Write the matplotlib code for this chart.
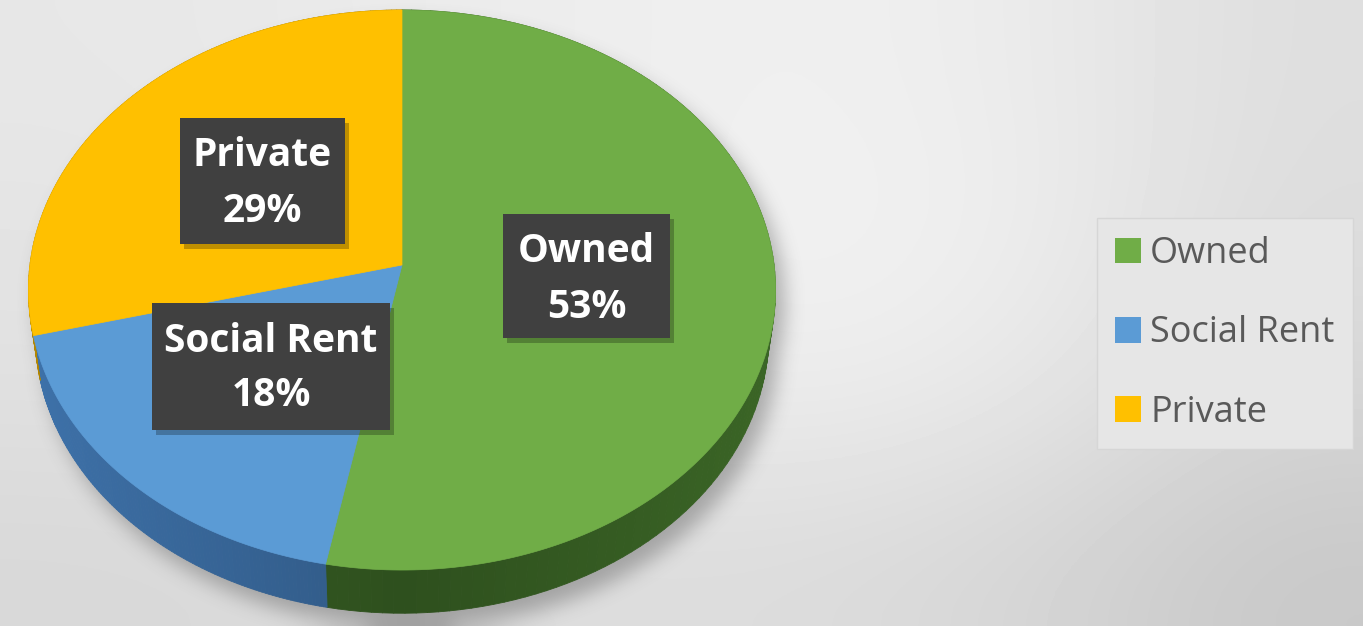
import numpy as np
import matplotlib
matplotlib.use("Agg")
import matplotlib.pyplot as plt
from matplotlib.patches import Polygon, Rectangle, Patch
from matplotlib.collections import PolyCollection
from matplotlib.path import Path

plt.rcParams["font.family"] = ["Open Sans", "DejaVu Sans"]

# housing tenure split
categories = ["Owned", "Social Rent", "Private"]
shares = [53, 18, 29]
top_colors = ["#70ad47", "#5b9bd5", "#ffc000"]
side_colors = ["#3b6626", "#3e72aa", "#b38600"]

W, H = 1363, 626
fig = plt.figure(figsize=(W / 100, H / 100), dpi=100)
ax = fig.add_axes([0, 0, 1, 1])
ax.set_xlim(0, W)
ax.set_ylim(H, 0)
ax.axis("off")

# soft grey backdrop, lighter in the middle
bg = np.array([
    [231, 234, 237, 240, 236, 222],
    [228, 232, 236, 242, 238, 220],
    [224, 228, 232, 238, 232, 214],
    [216, 218, 220, 220, 214, 200],
]) / 255.0
ax.imshow(bg, cmap="gray", vmin=0, vmax=1, extent=(0, W, H, 0),
          interpolation="bicubic", aspect="auto", zorder=0)

# perspective view of a flat disc
CX, CY = 402, 265
TILT = np.radians(48.3)
DIST = 7.45
FOCAL = 2772
THICK = 0.185


def project(theta, z):
    X = np.sin(theta)
    Y = np.cos(theta)
    up = Y * np.sin(TILT) + z * np.cos(TILT)
    depth = Y * np.cos(TILT) - z * np.sin(TILT)
    k = FOCAL / (DIST + depth)
    return CX + k * X, CY - k * up


fractions = np.array(shares) / np.sum(shares)
bounds = np.concatenate([[0], np.cumsum(fractions)]) * 2 * np.pi

# drop shadow under the whole pie
full = np.linspace(0, 2 * np.pi, 400)
gx, gy = np.meshgrid(np.arange(W) + 0.5, np.arange(H) + 0.5)
pts = np.column_stack([gx.ravel() - 9, gy.ravel() - 14])
mask = np.zeros(W * H, dtype=bool)
for z in (0, -THICK):
    px, py = project(full, z)
    mask |= Path(np.column_stack([px, py])).contains_points(pts)
mask = mask.reshape(H, W).astype(float)


def blur(a, r):
    k = 2 * r + 1
    for axis in (0, 1):
        pad = [(0, 0), (0, 0)]
        pad[axis] = (r + 1, r)
        c = np.cumsum(np.pad(a, pad, mode="edge"), axis=axis)
        a = (c[k:] - c[:-k]) / k if axis == 0 else (c[:, k:] - c[:, :-k]) / k
    return a


for _ in range(3):
    mask = blur(mask, 9)
shadow = np.zeros((H, W, 4))
shadow[..., :3] = 0.3
shadow[..., 3] = 0.4 * mask
ax.imshow(shadow, extent=(0, W, H, 0), aspect="auto", zorder=1)

# outer walls
quads, quad_colors = [], []
for i in range(len(shares)):
    t = np.linspace(bounds[i], bounds[i + 1], 120)
    tx, ty = project(t, 0)
    bx, by = project(t, -THICK)
    base = np.array(matplotlib.colors.to_rgb(side_colors[i]))
    for j in range(len(t) - 1):
        quads.append([(tx[j], ty[j]), (tx[j + 1], ty[j + 1]),
                      (bx[j + 1], by[j + 1]), (bx[j], by[j])])
        shade = 0.78 + 0.22 * abs(np.sin(0.5 * (t[j] + t[j + 1])))
        quad_colors.append(base * shade)
ax.add_collection(PolyCollection(quads, facecolors=quad_colors,
                                 edgecolors=quad_colors, linewidths=0.6, zorder=2))

# top faces
for i in range(len(shares)):
    t = np.linspace(bounds[i], bounds[i + 1], 200)
    tx, ty = project(t, 0)
    verts = np.vstack([[CX, CY], np.column_stack([tx, ty])])
    ax.add_patch(Polygon(verts, closed=True, facecolor=top_colors[i],
                         edgecolor=top_colors[i], linewidth=0.5, zorder=3))

# data labels: left, top, width, height
label_boxes = {
    "Owned": (503, 214, 167, 124),
    "Social Rent": (152, 303, 238, 127),
    "Private": (180, 118, 165, 126),
}
for name, val in zip(categories, shares):
    x0, y0, bw, bh = label_boxes[name]
    ax.add_patch(Rectangle((x0 + 4, y0 + 5), bw, bh, facecolor="black",
                           alpha=0.25, linewidth=0, zorder=4))
    ax.add_patch(Rectangle((x0, y0), bw, bh, facecolor="#404040",
                           linewidth=0, zorder=5))
    ax.text(x0 + bw / 2, y0 + 38, name, color="white", fontsize=28,
            fontweight="bold", ha="center", va="center", zorder=6)
    ax.text(x0 + bw / 2, y0 + 93, f"{val}%", color="white", fontsize=28,
            fontweight="bold", ha="center", va="center", zorder=6)

handles = [Patch(facecolor=c, edgecolor="none") for c in top_colors]
leg = ax.legend(handles, categories, loc="upper left",
                bbox_to_anchor=(1097 / W, 1 - 218 / H), bbox_transform=fig.transFigure,
                fontsize=26, frameon=True, fancybox=False, framealpha=1,
                facecolor="#e6e6e6", edgecolor="#d6d6d6", borderaxespad=0,
                borderpad=0.5, handlelength=0.72, handleheight=0.72,
                handletextpad=0.25, labelspacing=1.2, labelcolor="#595959")
leg.set_zorder(7)

fig.savefig("out.png", dpi=100)
